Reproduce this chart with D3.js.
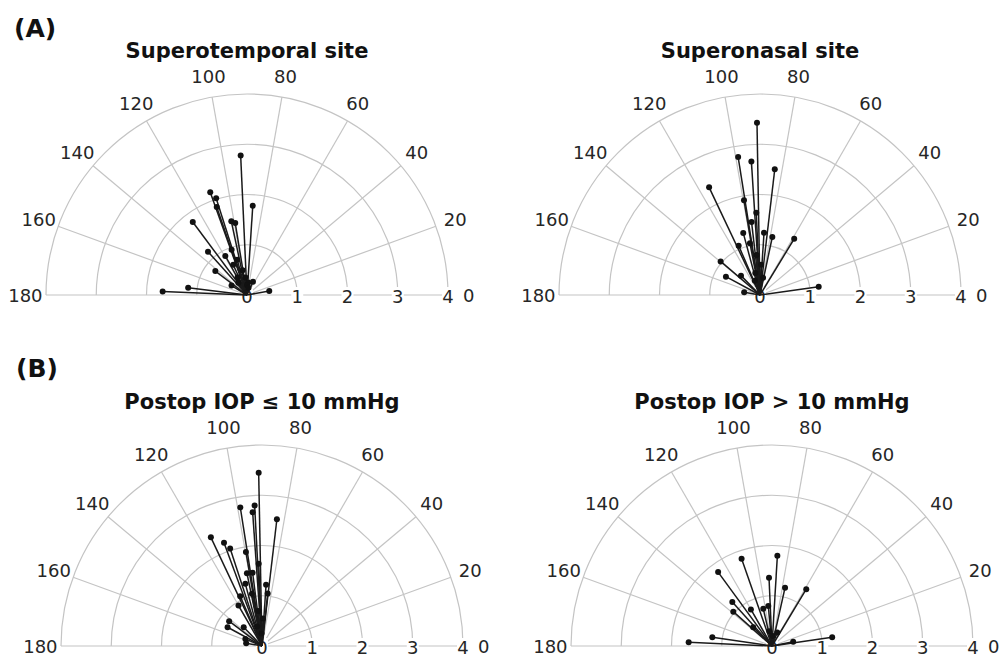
<!DOCTYPE html>
<html>
<head>
<meta charset="utf-8">
<script src="https://cdn.jsdelivr.net/npm/d3@7"></script>
<style>
  body { margin: 0; background: #fff; }
  svg { display: block; }
</style>
</head>
<body>
<div id="chart"></div>
<script>
// angle ticks (deg) and radius ticks
var angleTicks = [0, 20, 40, 60, 80, 100, 120, 140, 160, 180];
var ringTicks = [1, 2, 3, 4];
var panelLabels = ["(A)", "(B)"];
var titles = ["Superotemporal site", "Superonasal site", "Postop IOP \u2264 10 mmHg", "Postop IOP > 10 mmHg"];

// superotemporal site: direction (deg) and magnitude
var stAngles = [92.6, 109.7, 107.7, 109.0, 86.3, 126.6, 102.0, 99.3, 132.0, 119.0, 142.9, 177.7, 172.9, 10.3, 65.7, 148.7, 114.5, 105.5, 108.8, 100, 95, 84, 118, 125, 90, 78];
var stMags   = [2.78, 2.17, 2.02, 1.85, 1.78, 1.81, 1.50, 1.45, 1.16, 0.89, 0.79, 1.68, 1.18, 0.45, 0.29, 0.36, 0.66, 0.73, 0.95, 0.50, 0.35, 0.25, 0.40, 0.30, 0.20, 0.15];

// superonasal site
var snAngles = [91.0, 99.0, 93.7, 83.3, 115.3, 99.6, 92.6, 96.6, 105.1, 86.3, 78.0, 58.7, 113.4, 101.0, 139.5, 151.7, 134.5, 170.0, 8.1, 95, 88, 102, 80, 110];
var snMags   = [3.43, 2.78, 2.66, 2.52, 2.37, 1.91, 1.64, 1.46, 1.28, 1.24, 1.18, 1.31, 1.07, 1.05, 1.03, 0.77, 0.54, 0.32, 1.18, 0.80, 0.60, 0.45, 0.35, 0.30];

// postop IOP <= 10 mmHg
var loAngles = [91.1, 98.9, 93.0, 94.0, 83.3, 115.2, 110.2, 108.1, 99.7, 92.3, 101.7, 97.3, 86.2, 105.0, 100.9, 83.8, 113.7, 120.2, 142.9, 151.4, 134.4, 157.0, 170.0, 96, 88, 104, 92];
var loMags   = [3.45, 2.79, 2.80, 2.67, 2.54, 2.39, 2.19, 2.04, 1.90, 1.64, 1.48, 1.47, 1.22, 1.28, 1.06, 1.05, 1.08, 0.93, 0.82, 0.78, 0.52, 0.36, 0.32, 0.70, 0.55, 0.40, 0.25];

// postop IOP > 10 mmHg
var hiAngles = [109.2, 86.6, 126.1, 92.5, 77.4, 58.9, 132.0, 138.4, 120.0, 103.2, 95.3, 177.4, 171.7, 11.4, 8.3, 68.8, 135.0, 100, 85];
var hiMags   = [1.84, 1.80, 1.82, 1.36, 1.19, 1.32, 1.18, 1.03, 0.84, 0.76, 0.80, 1.66, 1.20, 0.43, 1.21, 0.29, 0.53, 0.30, 0.20];

var width = 1001, height = 658;
var R = 201;
var gridColor = "#c4c4c4";
var textColor = "#262626";
var font = "'DejaVu Sans', 'Liberation Sans', Arial, sans-serif";

var svg = d3.select("#chart").append("svg")
    .attr("width", width)
    .attr("height", height)
    .style("background", "#fff");

var r = d3.scaleLinear().domain([0, 4]).range([0, R]);

function px(a, m) { return r(m) * Math.cos(a * Math.PI / 180); }
function py(a, m) { return -r(m) * Math.sin(a * Math.PI / 180); }

var panels = [
  {cx: 247, cy: 295, title: titles[0], angles: stAngles, mags: stMags},
  {cx: 760, cy: 295, title: titles[1], angles: snAngles, mags: snMags},
  {cx: 262, cy: 646, title: titles[2], angles: loAngles, mags: loMags},
  {cx: 772, cy: 646, title: titles[3], angles: hiAngles, mags: hiMags}
];

// panel letters
svg.append("text").attr("x", 14).attr("y", 37)
    .style("font-family", font).style("font-weight", "bold").style("font-size", "25px")
    .attr("fill", "#111").text(panelLabels[0]);
svg.append("text").attr("x", 16).attr("y", 377)
    .style("font-family", font).style("font-weight", "bold").style("font-size", "25px")
    .attr("fill", "#111").text(panelLabels[1]);

panels.forEach(function(p) {
  var g = svg.append("g").attr("transform", "translate(" + p.cx + "," + p.cy + ")");

  // title
  g.append("text")
      .attr("x", 0).attr("y", -237)
      .attr("text-anchor", "middle")
      .style("font-family", font).style("font-weight", "bold").style("font-size", "21px")
      .attr("fill", "#111")
      .text(p.title);

  // rings
  var arc = d3.arc().startAngle(-Math.PI / 2).endAngle(Math.PI / 2);
  g.selectAll(".ring").data(ringTicks).enter().append("path")
      .attr("class", "ring")
      .attr("d", function(d) { return arc({innerRadius: r(d), outerRadius: r(d)}); })
      .attr("fill", "none")
      .attr("stroke", gridColor)
      .attr("stroke-width", 1.2);

  // spokes
  g.selectAll(".spoke").data(angleTicks).enter().append("line")
      .attr("class", "spoke")
      .attr("x1", 0).attr("y1", 0)
      .attr("x2", function(d) { return px(d, 4); })
      .attr("y2", function(d) { return py(d, 4); })
      .attr("stroke", gridColor)
      .attr("stroke-width", 1.2);

  // angle labels
  g.selectAll(".alab").data(angleTicks).enter().append("text")
      .attr("class", "alab")
      .attr("x", function(d) { return px(d, 4.41); })
      .attr("y", function(d) { return py(d, 4.41); })
      .attr("text-anchor", "middle")
      .attr("dominant-baseline", "central")
      .style("font-family", font).style("font-size", "18px")
      .attr("fill", textColor)
      .text(function(d) { return d; });

  // radius labels on baseline (with white backing)
  var rl = g.selectAll(".rlab").data([0].concat(ringTicks)).enter().append("g")
      .attr("class", "rlab")
      .attr("transform", function(d) { return "translate(" + r(d) + ",0)"; });
  rl.append("rect")
      .attr("x", -6).attr("y", -8).attr("width", 12).attr("height", 16)
      .attr("fill", "#fff");
  rl.append("text")
      .attr("text-anchor", "middle")
      .attr("dominant-baseline", "central")
      .attr("y", 1)
      .style("font-family", font).style("font-size", "18px")
      .attr("fill", textColor)
      .text(function(d) { return d; });

  // vectors
  var data = p.angles.map(function(a, i) { return {a: a, m: p.mags[i]}; });
  g.selectAll(".vec").data(data).enter().append("line")
      .attr("class", "vec")
      .attr("x1", 0).attr("y1", 0)
      .attr("x2", function(d) { return px(d.a, d.m); })
      .attr("y2", function(d) { return py(d.a, d.m); })
      .attr("stroke", "#1a1a1a")
      .attr("stroke-width", 1.5);

  g.selectAll(".dot").data(data).enter().append("circle")
      .attr("class", "dot")
      .attr("cx", function(d) { return px(d.a, d.m); })
      .attr("cy", function(d) { return py(d.a, d.m); })
      .attr("r", 3)
      .attr("fill", "#111");
});
</script>
</body>
</html>
